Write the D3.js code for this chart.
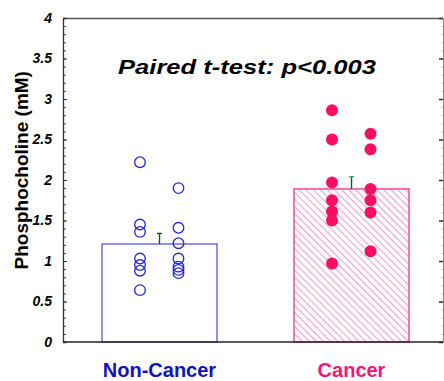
<!DOCTYPE html>
<html>
<head>
<meta charset="utf-8">
<script src="https://cdn.jsdelivr.net/npm/d3@7"></script>
<style>
  body { margin: 0; background: #fff; }
  svg { display: block; font-family: "Liberation Sans", Arial, sans-serif; }
</style>
</head>
<body>
<svg width="444" height="381"></svg>
<script>
// groups, bar means and SEM
const groups = ["Non-Cancer", "Cancer"];
const means = [1.21, 1.89];
const sems = [0.13, 0.15];

// individual samples, two jittered columns per group
const nonCancerLeft = [2.22, 1.45, 1.36, 1.03, 0.95, 0.88, 0.64];
const nonCancerRight = [1.90, 1.41, 1.22, 1.03, 0.93, 0.89, 0.85];
const cancerLeft = [2.86, 2.50, 1.97, 1.75, 1.61, 1.50, 0.97];
const cancerRight = [2.57, 2.38, 1.89, 1.75, 1.60, 1.12];

const yTicks = [0, 0.5, 1, 1.5, 2, 2.5, 3, 3.5, 4];

const svg = d3.select("svg");
const margin = {top: 18, right: 1, bottom: 39, left: 63};
const width = 444 - margin.left - margin.right;
const height = 381 - margin.top - margin.bottom;
const g = svg.append("g").attr("transform", `translate(${margin.left},${margin.top})`);

const x = d3.scaleBand().domain(groups).range([0, 385]).paddingInner(0.401).paddingOuter(0.203);
const y = d3.scaleLinear().domain([0, 4]).range([height, 0]);
// offset of the two point columns around the bar centre
const jitter = d3.scaleOrdinal().domain(["left", "right"]).range([-19.5, 19]);

const blue = "#2424e0";
const pink = "#ff0d62";

// hatch pattern for the cancer bar
const defs = svg.append("defs");
const pat = defs.append("pattern")
  .attr("id", "hatch")
  .attr("patternUnits", "userSpaceOnUse")
  .attr("width", 5).attr("height", 5)
  .attr("patternTransform", "rotate(-45)");
pat.append("line")
  .attr("x1", 0).attr("y1", 0).attr("x2", 0).attr("y2", 5)
  .attr("stroke", "#f062aa").attr("stroke-width", 1.3);

// frame: top line and right axis
g.append("line")
  .attr("x1", 0).attr("x2", width).attr("y1", 0.5).attr("y2", 0.5)
  .attr("stroke", "#555").attr("stroke-width", 1.5);

const minor = d3.range(0, 4.01, 0.1);

g.append("g")
  .attr("transform", `translate(${width},0)`)
  .call(d3.axisRight(y).tickValues(minor).tickSize(-1.5).tickFormat(""))
  .call(a => a.select(".domain").attr("stroke", "#888"))
  .call(a => a.selectAll(".tick line").attr("stroke", "#bbb"));
g.append("g")
  .attr("transform", `translate(${width},0)`)
  .call(d3.axisRight(y).tickValues(yTicks).tickSize(-4).tickFormat(""))
  .call(a => a.select(".domain").remove())
  .call(a => a.selectAll(".tick line").attr("stroke", "#333").attr("stroke-width", 1.5));

// bars
g.selectAll(".bar")
  .data(groups)
  .enter().append("rect")
  .attr("x", d => x(d))
  .attr("y", (d, i) => y(means[i]))
  .attr("width", x.bandwidth())
  .attr("height", (d, i) => height - y(means[i]))
  .attr("fill", (d, i) => i === 0 ? "#fff" : "url(#hatch)")
  .attr("stroke", (d, i) => i === 0 ? "#5454ea" : "#f06aa8")
  .attr("stroke-width", (d, i) => i === 0 ? 1.3 : 1.8);

// error bars (upper only)
const err = g.selectAll(".err")
  .data(groups)
  .enter().append("g");
err.append("line")
  .attr("x1", d => x(d) + x.bandwidth() / 2)
  .attr("x2", d => x(d) + x.bandwidth() / 2)
  .attr("y1", (d, i) => y(means[i]))
  .attr("y2", (d, i) => y(means[i] + sems[i]))
  .attr("stroke", "#0a5a1e").attr("stroke-width", 1.4);
err.append("line")
  .attr("x1", d => x(d) + x.bandwidth() / 2 - 2.5)
  .attr("x2", d => x(d) + x.bandwidth() / 2 + 2.5)
  .attr("y1", (d, i) => y(means[i] + sems[i]))
  .attr("y2", (d, i) => y(means[i] + sems[i]))
  .attr("stroke", (d, i) => i === 0 ? "#0a5a1e" : "#4a9a6a").attr("stroke-width", 1.4);

// points
const cx = (grp, side) => x(grp) + x.bandwidth() / 2 + jitter(side);

g.selectAll(".nc1").data(nonCancerLeft).enter().append("circle")
  .attr("cx", cx("Non-Cancer", "left")).attr("cy", d => y(d)).attr("r", 5.3)
  .attr("fill", "none").attr("stroke", blue).attr("stroke-width", 1.3);
g.selectAll(".nc2").data(nonCancerRight).enter().append("circle")
  .attr("cx", cx("Non-Cancer", "right")).attr("cy", d => y(d)).attr("r", 5.3)
  .attr("fill", "none").attr("stroke", blue).attr("stroke-width", 1.3);
g.selectAll(".c1").data(cancerLeft).enter().append("circle")
  .attr("cx", cx("Cancer", "left")).attr("cy", d => y(d)).attr("r", 6)
  .attr("fill", pink);
g.selectAll(".c2").data(cancerRight).enter().append("circle")
  .attr("cx", cx("Cancer", "right")).attr("cy", d => y(d)).attr("r", 6)
  .attr("fill", pink);

// left axis with minor ticks
g.append("g")
  .call(d3.axisLeft(y).tickValues(minor).tickSize(-3).tickFormat(""))
  .call(a => a.select(".domain").attr("stroke", "#333").attr("stroke-width", 1.3))
  .call(a => a.selectAll(".tick line").attr("stroke", "#444"));
g.append("g")
  .call(d3.axisLeft(y).tickValues(yTicks).tickSize(-4).tickPadding(11).tickFormat(d3.format("")))
  .call(a => a.select(".domain").remove())
  .call(a => a.selectAll(".tick line").attr("stroke", "#333"))
  .call(a => a.selectAll(".tick text")
    .attr("font-family", "Liberation Sans, Arial, sans-serif")
    .attr("font-size", 14).attr("font-weight", "bold").attr("font-style", "italic")
    .attr("fill", "#000"));

// bottom axis line
g.append("line")
  .attr("x1", 0).attr("x2", width).attr("y1", height).attr("y2", height)
  .attr("stroke", "#222").attr("stroke-width", 1.5);

// category labels
g.selectAll(".xlab")
  .data(groups)
  .enter().append("text")
  .attr("x", d => x(d) + x.bandwidth() / 2)
  .attr("y", height + 35)
  .attr("text-anchor", "middle")
  .attr("font-size", 20).attr("font-weight", "bold")
  .attr("fill", (d, i) => i === 0 ? "#1212b8" : "#f0177a")
  .text(d => d);

// y label
svg.append("text")
  .attr("transform", `translate(28,${margin.top + y(2.12)}) rotate(-90)`)
  .attr("text-anchor", "middle")
  .attr("font-size", 19).attr("font-weight", "bold")
  .text("Phosphocholine (mM)");

// annotation
g.append("text")
  .attr("x", 55)
  .attr("y", 56)
  .attr("font-size", 21).attr("font-weight", "bold").attr("font-style", "italic")
  .attr("textLength", 258).attr("lengthAdjust", "spacingAndGlyphs")
  .text("Paired t-test: p<0.003");
</script>
</body>
</html>
